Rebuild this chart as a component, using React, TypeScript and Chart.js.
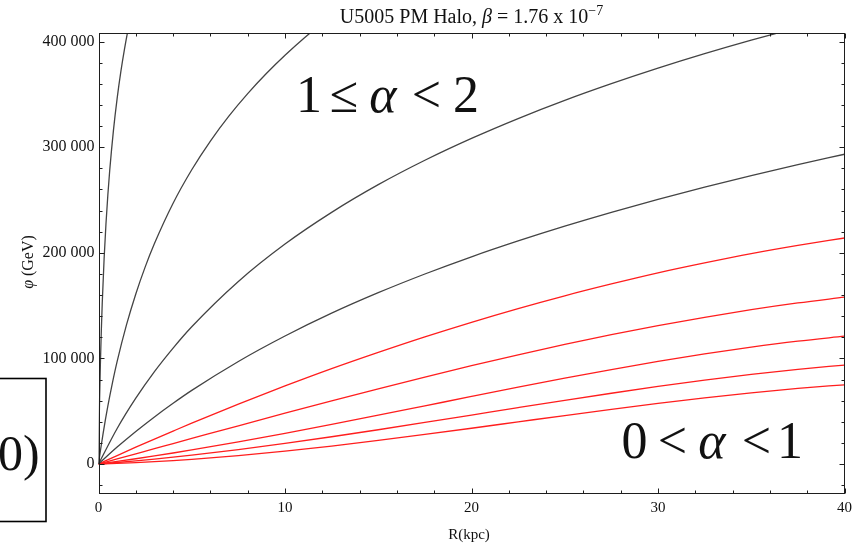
import React, { useEffect, useRef } from "react";
import { Chart, registerables } from "chart.js";

Chart.register(...registerables);

// Potential phi(R) for the U5005 PM halo, one curve per alpha value.
// Radii in kpc, potential in GeV.
const rSteepest = [0, 0.01, 0.03, 0.06, 0.1, 0.15, 0.2, 0.3, 0.4, 0.5, 0.6, 0.8, 1.0, 1.2, 1.4, 1.6, 1.8];
const phiSteepest = [0, 12400, 34600, 62800, 93900, 125700, 152000, 194200, 227300, 254500, 277700, 315700, 346200, 371700, 393500, 412700, 429800];

const rSecond = [0, 0.1, 0.25, 0.5, 0.75, 1, 1.5, 2, 2.5, 3, 4, 5, 6, 7, 8, 9, 10, 11, 12];
const phiSecond = [0, 12300, 29300, 54700, 77000, 97100, 131700, 161000, 186400, 208700, 246900, 278600, 305800, 329600, 350700, 369700, 387000, 402900, 417500];

const rWide = [0, 1, 2, 3, 4, 5, 7.5, 10, 12.5, 15, 17.5, 20, 22.5, 25, 27.5, 30, 32.5, 35, 37.5, 40];
const phiThird = [0, 33600, 62300, 87500, 109800, 130000, 172900, 208300, 238300, 264500, 287600, 308300, 327100, 344300, 360100, 374800, 388500, 401300, 413300, 424700];
const phiFourth = [0, 16000, 30800, 44600, 57500, 69700, 97100, 121200, 142800, 162200, 179900, 196200, 211200, 225200, 238300, 250600, 262100, 273000, 283400, 293300];

const phiRed1 = [0, 8000, 15900, 23600, 31200, 38700, 56700, 73900, 90300, 105700, 120400, 134200, 147200, 159300, 170500, 181000, 190400, 199200, 207000, 214000];
const phiRed2 = [0, 4840, 9690, 14500, 19400, 24200, 36200, 48100, 59800, 71200, 82300, 93100, 103400, 113200, 122400, 131000, 138900, 146100, 152500, 158000];
const phiRed3 = [0, 2420, 4970, 7630, 10410, 13300, 20910, 29010, 37490, 46210, 55060, 63930, 72690, 81220, 89410, 97130, 104270, 110720, 116340, 121000];
const phiRed4 = [0, 1420, 2970, 4660, 6470, 8390, 13660, 19500, 25800, 32440, 39320, 46330, 53360, 60290, 67010, 73430, 79410, 84860, 89660, 93700];
const phiRed5 = [0, 560, 1290, 2170, 3210, 4390, 7900, 12140, 16980, 22300, 27970, 33870, 39890, 45910, 51790, 57420, 62680, 67440, 71590, 75000];

const xMajorTicks = [0, 10, 20, 30, 40];
const yMajorTicks = [0, 100000, 200000, 300000, 400000];
const xMinorStep = 2;
const yMinorStep = 20000;

const W = 857;
const H = 546;
const SERIF = "'Liberation Serif', 'Times New Roman', serif";
const DARK = "#444444";
const RED = "rgb(255,30,30)";

const toPoints = (rs: number[], ps: number[]) => rs.map((r, i) => ({ x: r, y: ps[i] }));

const curves = [
  { rs: rSteepest, ps: phiSteepest, color: DARK },
  { rs: rSecond, ps: phiSecond, color: DARK },
  { rs: rWide, ps: phiThird, color: DARK },
  { rs: rWide, ps: phiFourth, color: DARK },
  { rs: rWide, ps: phiRed1, color: RED },
  { rs: rWide, ps: phiRed2, color: RED },
  { rs: rWide, ps: phiRed3, color: RED },
  { rs: rWide, ps: phiRed4, color: RED },
  { rs: rWide, ps: phiRed5, color: RED },
];

type Part = { text: string; font: string; dy?: number };

function drawRich(ctx: CanvasRenderingContext2D, parts: Part[], cx: number, baseline: number) {
  let total = 0;
  const widths = parts.map((p) => {
    ctx.font = p.font;
    const w = ctx.measureText(p.text).width;
    total += w;
    return w;
  });
  let x = cx - total / 2;
  ctx.textAlign = "left";
  ctx.textBaseline = "alphabetic";
  parts.forEach((p, i) => {
    ctx.font = p.font;
    ctx.fillText(p.text, x, baseline + (p.dy || 0));
    x += widths[i];
  });
}

type Glyph = { t: string; cx: number; italic?: boolean };

function drawGlyphs(ctx: CanvasRenderingContext2D, glyphs: Glyph[], baseline: number, size: number) {
  ctx.textAlign = "center";
  ctx.textBaseline = "alphabetic";
  glyphs.forEach((g) => {
    ctx.font = `${g.italic ? "italic " : ""}${size}px ${SERIF}`;
    ctx.fillText(g.t, g.cx, baseline);
  });
}

const framePlugin = {
  id: "mmaFrame",
  afterDraw(chart: any) {
    const { ctx, chartArea: a, scales } = chart;
    const xs = scales.x;
    const ys = scales.y;
    ctx.save();

    // frame
    const L = Math.round(a.left) + 0.5;
    const R = Math.round(a.right) - 0.5;
    const T = Math.round(a.top) + 0.5;
    const B = Math.round(a.bottom) - 0.5;
    ctx.strokeStyle = "#1e1e1e";
    ctx.lineWidth = 1;
    ctx.strokeRect(L, T, R - L, B - T);

    // inward ticks on all four sides
    ctx.beginPath();
    for (let v = Math.ceil(xs.min / xMinorStep) * xMinorStep; v <= xs.max + 1e-9; v += xMinorStep) {
      const major = xMajorTicks.some((m) => Math.abs(m - v) < 1e-9);
      const len = major ? 5 : 3;
      const px = Math.round(xs.getPixelForValue(v)) + 0.5;
      ctx.moveTo(px, B);
      ctx.lineTo(px, B - len);
      ctx.moveTo(px, T);
      ctx.lineTo(px, T + len);
    }
    for (let v = Math.ceil(ys.min / yMinorStep) * yMinorStep; v <= ys.max + 1e-9; v += yMinorStep) {
      const major = yMajorTicks.some((m) => Math.abs(m - v) < 1e-6);
      const len = major ? 5 : 3;
      const py = Math.round(ys.getPixelForValue(v)) + 0.5;
      ctx.moveTo(L, py);
      ctx.lineTo(L + len, py);
      ctx.moveTo(R, py);
      ctx.lineTo(R - len, py);
    }
    ctx.stroke();

    ctx.fillStyle = "#111";

    // title
    drawRich(
      ctx,
      [
        { text: "U5005 PM Halo, ", font: `20px ${SERIF}` },
        { text: "β", font: `italic 20px ${SERIF}` },
        { text: " = 1.76 x 10", font: `20px ${SERIF}` },
        { text: "−7", font: `14px ${SERIF}`, dy: -8 },
      ],
      (a.left + a.right) / 2,
      23
    );

    // axis titles
    drawRich(ctx, [{ text: "R(kpc)", font: `15px ${SERIF}` }], 469, 539);
    ctx.save();
    ctx.translate(33, 262);
    ctx.rotate(-Math.PI / 2);
    drawRich(
      ctx,
      [
        { text: "φ", font: `italic 16px ${SERIF}` },
        { text: " (GeV)", font: `16px ${SERIF}` },
      ],
      0,
      0
    );
    ctx.restore();

    // range annotations
    drawGlyphs(
      ctx,
      [
        { t: "1", cx: 309 },
        { t: "≤", cx: 344 },
        { t: "α", cx: 383, italic: true },
        { t: "<", cx: 426.5 },
        { t: "2", cx: 466 },
      ],
      112,
      52
    );
    drawGlyphs(
      ctx,
      [
        { t: "0", cx: 634.5 },
        { t: "<", cx: 672.5 },
        { t: "α", cx: 712, italic: true },
        { t: "<", cx: 756.5 },
        { t: "1", cx: 790 },
      ],
      458,
      52
    );

    // boxed fragment at the left edge
    ctx.strokeStyle = "#000";
    ctx.lineWidth = 1.6;
    ctx.strokeRect(-10, 378.5, 56, 143);
    ctx.font = `50px ${SERIF}`;
    ctx.textAlign = "left";
    ctx.textBaseline = "alphabetic";
    ctx.fillText("0)", -2, 470);

    ctx.restore();
  },
};

function formatThousands(v: number) {
  const s = Math.round(v).toString();
  return s.replace(/\B(?=(\d{3})+(?!\d))/g, " ");
}

export default function App() {
  const canvasRef = useRef<HTMLCanvasElement | null>(null);

  useEffect(() => {
    const canvas = canvasRef.current;
    if (!canvas) return;

    const chart = new Chart(canvas, {
      type: "line",
      data: {
        datasets: curves.map((c) => ({
          data: toPoints(c.rs, c.ps),
          borderColor: c.color,
          borderWidth: 1.3,
          pointRadius: 0,
          fill: false,
          cubicInterpolationMode: "monotone" as const,
        })),
      },
      options: {
        animation: false,
        responsive: false,
        maintainAspectRatio: false,
        devicePixelRatio: 1,
        layout: { padding: { top: 33, right: 10, left: 0, bottom: 0 } },
        plugins: {
          legend: { display: false },
          tooltip: { enabled: false },
          title: { display: false },
        },
        scales: {
          x: {
            type: "linear",
            min: 0,
            max: 40,
            grid: { display: false, drawTicks: false, tickLength: 0 },
            border: { display: false },
            ticks: {
              padding: 5,
              color: "#111",
              font: { family: SERIF, size: 15 },
              maxRotation: 0,
              callback: (v: any) => String(v),
            },
            afterBuildTicks: (s: any) => {
              s.ticks = xMajorTicks.map((v) => ({ value: v }));
            },
            afterFit: (s: any) => {
              s.height = 52;
            },
          },
          y: {
            type: "linear",
            min: -28400,
            max: 408100,
            grid: { display: false, drawTicks: false, tickLength: 0 },
            border: { display: false },
            ticks: {
              padding: 4,
              color: "#111",
              font: { family: SERIF, size: 16 },
              callback: (v: any) => formatThousands(Number(v)),
            },
            afterBuildTicks: (s: any) => {
              s.ticks = yMajorTicks.map((v) => ({ value: v }));
            },
            afterFit: (s: any) => {
              s.width = 98.5;
            },
          },
        },
      },
      plugins: [framePlugin],
    } as any);

    return () => chart.destroy();
  }, []);

  return (
    <div style={{ position: "absolute", left: 0, top: 0, width: W, height: H, background: "#fff" }}>
      <canvas ref={canvasRef} width={W} height={H} style={{ display: "block" }} />
    </div>
  );
}
